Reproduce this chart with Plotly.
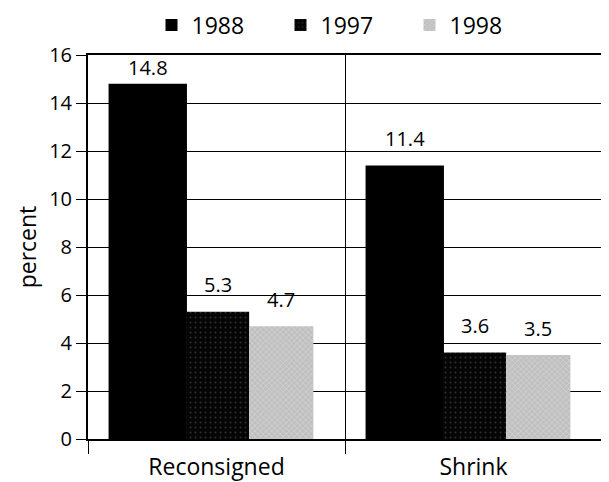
import plotly.graph_objects as go

# ---- data ----
categories = ["Reconsigned", "Shrink"]
years = ["1988", "1997", "1998"]
v1988 = [14.8, 11.4]
v1997 = [5.3, 3.6]
v1998 = [4.7, 3.5]
y_tickvals = [0, 2, 4, 6, 8, 10, 12, 14, 16]

series = [v1988, v1997, v1998]

# ---- styles ----
FONT = "Open Sans"
offsets = [-0.42, -0.118, 0.127]
widths = [0.305, 0.245, 0.25]
styles = [
    dict(color="#000000"),
    dict(color="#050505",
         pattern=dict(shape=".", fgcolor="#5a5a5a", size=5, solidity=0.12, fillmode="overlay")),
    dict(color="#c0c0c0",
         pattern=dict(shape="x", fgcolor="#e8e8e8", size=4, solidity=0.3, fillmode="overlay")),
]
label_shift = [[16, 27], [27, 27], [27, 27]]

fig = go.Figure()
annotations = []
for k, (name, vals) in enumerate(zip(years, series)):
    fig.add_trace(go.Bar(
        name=name, x=categories, y=vals,
        offset=offsets[k], width=widths[k],
        marker=dict(line=dict(width=0), **styles[k]),
    ))
    for i, v in enumerate(vals):
        annotations.append(dict(
            x=i + offsets[k] + widths[k] / 2, y=v, xref="x", yref="y",
            text=f"{v}", showarrow=False, yanchor="middle",
            yshift=label_shift[k][i],
            font=dict(family=FONT, size=20, color="black"),
        ))

# page body has an 8px default margin, so the figure is drawn 8px in from the corner
fig.update_layout(
    width=601, height=474,
    margin=dict(l=80, r=7, t=47, b=43, autoexpand=False),
    paper_bgcolor="white", plot_bgcolor="white",
    font=dict(family=FONT, color="black"),
    showlegend=True,
    legend=dict(orientation="h", x=0.5, xanchor="center", y=1.078, yanchor="middle",
                font=dict(family=FONT, size=23, color="black"),
                entrywidth=84, traceorder="normal", bgcolor="rgba(0,0,0,0)"),
    annotations=annotations,
    xaxis=dict(
        type="category", categoryorder="array", categoryarray=categories,
        range=[-0.5, 1.5], automargin=False,
        showline=True, linecolor="black", linewidth=2, mirror=True,
        ticks="outside", tickson="boundaries", ticklen=13, tickcolor="black", tickwidth=1,
        ticklabelstandoff=6,
        showgrid=True, gridcolor="black", gridwidth=1,
        tickfont=dict(family=FONT, size=23, color="black"),
    ),
    yaxis=dict(
        range=[0, 16], tickvals=y_tickvals, automargin=False,
        showline=True, linecolor="black", linewidth=2, mirror=True,
        ticks="outside", ticklen=10, tickcolor="black", tickwidth=1,
        showgrid=True, gridcolor="black", gridwidth=1, zeroline=False,
        tickfont=dict(family=FONT, size=20, color="black"),
        title=dict(text="percent", font=dict(family=FONT, size=23, color="black"), standoff=6),
    ),
)

fig.write_html("out.html")
